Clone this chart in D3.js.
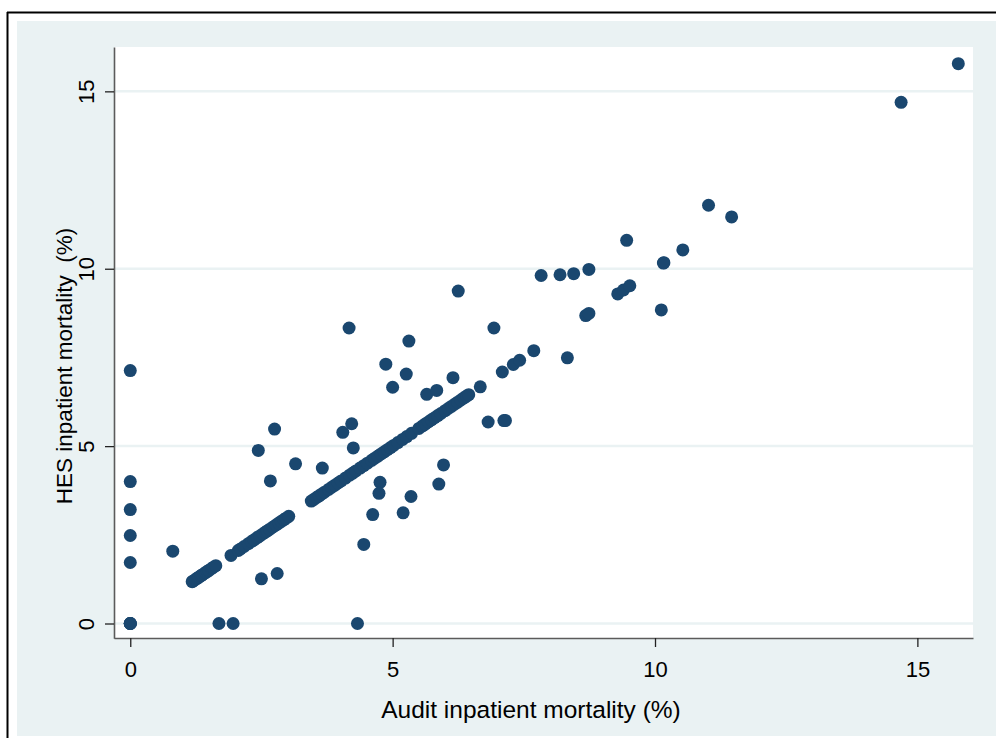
<!DOCTYPE html>
<html>
<head>
<meta charset="utf-8">
<script src="https://cdn.jsdelivr.net/npm/d3@7"></script>
<style>
  html, body {
    margin: 0;
    padding: 0;
    background: #fff;
  }
  svg text {
    font-family: "Liberation Sans", Arial, sans-serif;
    fill: #000;
  }
</style>
</head>
<body>
<div id="vis"></div>
<script>
// units where the audit rate is 0 (HES rate shown)
var zeroAuditHes = [7.13, 4.0, 3.21, 2.48, 1.72, 0, 0, 0, 0];
// units where the HES rate is 0 (audit rate shown)
var zeroHesAudit = [1.69, 1.96, 4.33];
// units where both sources agree
var agreeRates = [
  1.18, 1.2, 1.25, 1.28, 1.31, 1.35, 1.37, 1.41, 1.44, 1.47, 1.5, 1.55, 1.58, 1.63,
  1.92,
  2.06, 2.1, 2.17, 2.25, 2.31, 2.36, 2.42, 2.47, 2.53, 2.58, 2.61, 2.66, 2.72, 2.78,
  2.83, 2.88, 2.93, 2.97, 3.02,
  3.45, 3.5, 3.56, 3.6, 3.65, 3.7, 3.78, 3.84, 3.9, 3.96, 4.02, 4.1, 4.18, 4.24,
  4.3, 4.38, 4.45, 4.52, 4.6, 4.66, 4.72, 4.78, 4.84, 4.9, 4.96, 5.02, 5.1, 5.19,
  5.27, 5.36, 5.5, 5.57, 5.62, 5.68, 5.74, 5.8, 5.86, 5.92, 6.0, 6.06, 6.12, 6.18,
  6.24, 6.3, 6.36, 6.41, 6.45,
  6.67, 7.09, 7.3, 7.42, 7.69, 8.68, 8.74, 9.29, 9.4, 9.52, 10.16, 10.17, 10.53,
  11.46, 14.69, 15.78
];
// the rest, paired
var auditOther = [0.81, 2.50, 2.80, 2.67, 2.44, 2.75, 3.15, 3.66, 4.05, 4.22,
  4.25, 4.17, 4.76, 4.74, 4.62, 4.45, 5.20, 5.35, 5.88, 5.97,
  4.87, 5.26, 5.31, 5.00, 5.65, 5.84, 6.15, 6.25, 6.93, 6.82,
  7.12, 7.15, 7.83, 8.19, 8.45, 8.74, 9.46, 10.12, 11.02, 8.33];
var hesOther = [2.04, 1.26, 1.41, 4.02, 4.88, 5.48, 4.50, 4.38, 5.39, 5.63,
  4.95, 8.33, 3.98, 3.67, 3.07, 2.23, 3.12, 3.58, 3.93, 4.47,
  7.31, 7.03, 7.96, 6.66, 6.46, 6.57, 6.93, 9.37, 8.33, 5.68,
  5.72, 5.72, 9.81, 9.83, 9.86, 9.98, 10.80, 8.84, 11.79, 7.49];
var tickVals = [0, 5, 10, 15];

var points = [];
zeroAuditHes.forEach(function (v) { points.push([0, v]); });
zeroHesAudit.forEach(function (v) { points.push([v, 0]); });
agreeRates.forEach(function (v) { points.push([v, v]); });
auditOther.forEach(function (v, i) { points.push([v, hesOther[i]]); });

var width = 996, height = 738;
var plot = { left: 114, right: 973, top: 47, bottom: 638 };

var svg = d3.select("#vis").append("svg")
  .attr("width", width)
  .attr("height", height);

// outer frame
svg.append("line").attr("x1", 7).attr("x2", width).attr("y1", 12.5).attr("y2", 12.5)
  .attr("stroke", "#000").attr("stroke-width", 2);
svg.append("line").attr("x1", 7.5).attr("x2", 7.5).attr("y1", 12).attr("y2", height)
  .attr("stroke", "#000").attr("stroke-width", 2);

// graph region
svg.append("rect").attr("x", 17).attr("y", 21)
  .attr("width", width - 17).attr("height", 736 - 21)
  .attr("fill", "#eaf2f3");
svg.append("rect").attr("x", plot.left).attr("y", plot.top)
  .attr("width", plot.right - plot.left).attr("height", plot.bottom - plot.top)
  .attr("fill", "#fff");

var x = d3.scaleLinear().domain([-0.31, 16.06]).range([plot.left, plot.right]);
var y = d3.scaleLinear().domain([-0.417, 16.25]).range([plot.bottom + 0.3, plot.top]);

// gridlines
svg.append("g").selectAll("line").data(tickVals).join("line")
  .attr("x1", plot.left).attr("x2", plot.right)
  .attr("y1", function (d) { return y(d); })
  .attr("y2", function (d) { return y(d); })
  .attr("stroke", "#eaf2f3").attr("stroke-width", 2.5);

// markers
svg.append("g").selectAll("circle").data(points).join("circle")
  .attr("cx", function (d) { return x(d[0]); })
  .attr("cy", function (d) { return y(d[1]); })
  .attr("r", 6.5)
  .attr("fill", "#1a476f");

// axes
var yAxis = svg.append("g")
  .attr("transform", "translate(" + plot.left + ",0)")
  .call(d3.axisLeft(y).tickValues(tickVals).tickSize(9).tickSizeOuter(0));
yAxis.select(".domain").attr("stroke", "#5b5b5b").attr("stroke-width", 1.6);
yAxis.selectAll(".tick line").attr("stroke", "#222").attr("stroke-width", 1.3);
yAxis.selectAll(".tick text")
  .attr("x", 0).attr("dy", 0)
  .attr("transform", "translate(-20,0) rotate(-90)")
  .attr("text-anchor", "middle")
  .attr("font-size", 22)
  .attr("fill", "#000");

var xAxis = svg.append("g")
  .attr("transform", "translate(0," + plot.bottom + ")")
  .call(d3.axisBottom(x).tickValues(tickVals).tickSize(9).tickSizeOuter(0));
xAxis.select(".domain").attr("stroke", "#5b5b5b").attr("stroke-width", 1.6);
xAxis.selectAll(".tick line").attr("stroke", "#222").attr("stroke-width", 1.3);
xAxis.selectAll(".tick text")
  .attr("y", 39).attr("dy", 0)
  .attr("font-size", 22)
  .attr("fill", "#000");

// titles
svg.append("text")
  .attr("x", 531).attr("y", 718)
  .attr("text-anchor", "middle")
  .attr("font-size", 24.5)
  .text("Audit inpatient mortality (%)");

svg.append("text")
  .attr("transform", "translate(72,366) rotate(-90)")
  .attr("text-anchor", "middle")
  .attr("font-size", 22.5)
  .attr("xml:space", "preserve")
  .style("white-space", "pre")
  .text("HES inpatient mortality  (%)");
</script>
</body>
</html>
